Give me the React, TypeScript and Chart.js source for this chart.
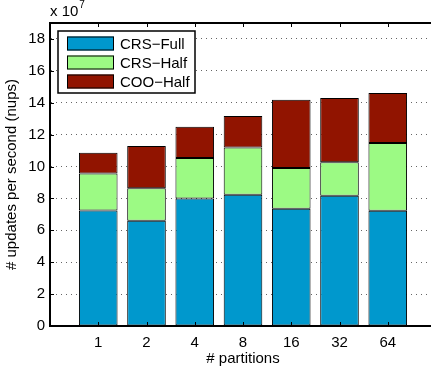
import React, { useEffect, useRef } from "react";
import { Chart, registerables } from "chart.js";

Chart.register(...registerables);

const categories = ["1", "2", "4", "8", "16", "32", "64"];
const crsFull = [7.24, 6.6, 8.0, 8.23, 7.35, 8.16, 7.22];
const crsHalf = [2.32, 2.04, 2.54, 2.96, 2.55, 2.11, 4.26];
const cooHalf = [1.3, 2.65, 1.96, 1.98, 4.28, 4.03, 3.13];
const seriesNames = ["CRS\u2212Full", "CRS\u2212Half", "COO\u2212Half"];
const seriesColors = ["#0098CD", "#9CFA84", "#911400"];
const yTicks = [0, 2, 4, 6, 8, 10, 12, 14, 16, 18];

const FONT = "'Liberation Sans', Arial, Helvetica, sans-serif";

const boxPlugin = {
  id: "matlabBox",
  afterDatasetsDraw(chart: any) {
    const { ctx, chartArea: a, scales } = chart;
    ctx.save();
    ctx.strokeStyle = "#000";
    ctx.lineWidth = 1;
    ctx.beginPath();
    for (let i = 1; i <= categories.length; i++) {
      const x = Math.round(scales.x.getPixelForValue(i)) + 0.5;
      ctx.moveTo(x, a.top);
      ctx.lineTo(x, a.top + 4);
      ctx.moveTo(x, a.bottom);
      ctx.lineTo(x, a.bottom - 4);
    }
    for (const v of yTicks) {
      const y = Math.round(scales.y.getPixelForValue(v)) + 0.5;
      ctx.moveTo(a.left, y);
      ctx.lineTo(a.left + 4, y);
    }
    ctx.stroke();
    ctx.lineWidth = 2;
    ctx.strokeRect(a.left, a.top, a.right - a.left, a.bottom - a.top);
    ctx.fillStyle = "#000";
    ctx.font = `15px ${FONT}`;
    ctx.textBaseline = "alphabetic";
    ctx.textAlign = "left";
    ctx.fillText("x 10", a.left, 16);
    const w = ctx.measureText("x 10").width;
    ctx.font = `10px ${FONT}`;
    ctx.fillText("7", a.left + w + 1, 8);
    const lx = a.left + 8;
    const ly = a.top + 8;
    const lw = 137;
    const lh = 62;
    ctx.fillStyle = "#fff";
    ctx.fillRect(lx, ly, lw, lh);
    ctx.lineWidth = 1.5;
    ctx.strokeStyle = "#000";
    ctx.strokeRect(lx, ly, lw, lh);
    ctx.font = `15px ${FONT}`;
    ctx.textBaseline = "middle";
    for (let i = 0; i < seriesNames.length; i++) {
      const cy = ly + 12.5 + i * 19;
      ctx.fillStyle = seriesColors[i];
      ctx.fillRect(lx + 9, cy - 7, 47, 14);
      ctx.lineWidth = 1;
      ctx.strokeRect(lx + 9.5, cy - 6.5, 46, 13);
      ctx.fillStyle = "#000";
      ctx.fillText(seriesNames[i], lx + 62, cy + 1);
    }
    ctx.restore();
  },
};

export default function App() {
  const ref = useRef<HTMLCanvasElement>(null);
  useEffect(() => {
    if (!ref.current) return;
    const labels = ["", ...categories, ""];
    const pad = (arr: number[]) => [null, ...arr, null];
    const series = [crsFull, crsHalf, cooHalf];
    const chart = new Chart(ref.current, {
      type: "bar",
      data: {
        labels,
        datasets: series.map((s, i) => ({
          label: seriesNames[i],
          data: pad(s) as any,
          backgroundColor: seriesColors[i],
          borderColor: "#000",
          borderWidth: 1,
          borderSkipped: false,
          barPercentage: 0.8,
          categoryPercentage: 1,
        })),
      },
      options: {
        responsive: false,
        animation: false,
        layout: { padding: { top: 23, right: 4, left: 0, bottom: 0 } },
        plugins: { legend: { display: false }, tooltip: { enabled: false } },
        scales: {
          x: {
            stacked: true,
            offset: false,
            grid: { display: false },
            border: { display: true, color: "#000", width: 2 },
            ticks: {
              color: "#000",
              font: { family: FONT, size: 15 },
              padding: 0,
              maxRotation: 0,
              autoSkip: false,
            },
            title: {
              display: true,
              text: "# partitions",
              color: "#000",
              font: { family: FONT, size: 15 },
              padding: { top: 0, bottom: 4 },
            },
            afterFit: (s: any) => {
              s.height = 46;
            },
          },
          y: {
            stacked: true,
            min: 0,
            max: 19,
            afterBuildTicks: (s: any) => {
              s.ticks = yTicks.map((v) => ({ value: v }));
            },
            grid: {
              color: "#666",
              lineWidth: 1,
              drawTicks: false,
            },
            border: { display: true, color: "#000", width: 2, dash: [1, 4] },
            ticks: {
              color: "#000",
              font: { family: FONT, size: 15 },
              padding: 5,
            },
            title: {
              display: true,
              text: "# updates per second (nups)",
              color: "#000",
              font: { family: FONT, size: 15 },
              padding: { top: 3, bottom: 0 },
            },
            afterFit: (s: any) => {
              s.width = 50;
            },
          },
        },
      },
      plugins: [boxPlugin],
    });
    return () => chart.destroy();
  }, []);
  return (
    <div
      style={{
        position: "fixed",
        left: 0,
        top: 0,
        width: 431,
        height: 372,
        overflow: "hidden",
        background: "#fff",
      }}
    >
      <canvas ref={ref} width={440} height={372} style={{ width: 440, height: 372 }} />
    </div>
  );
}
